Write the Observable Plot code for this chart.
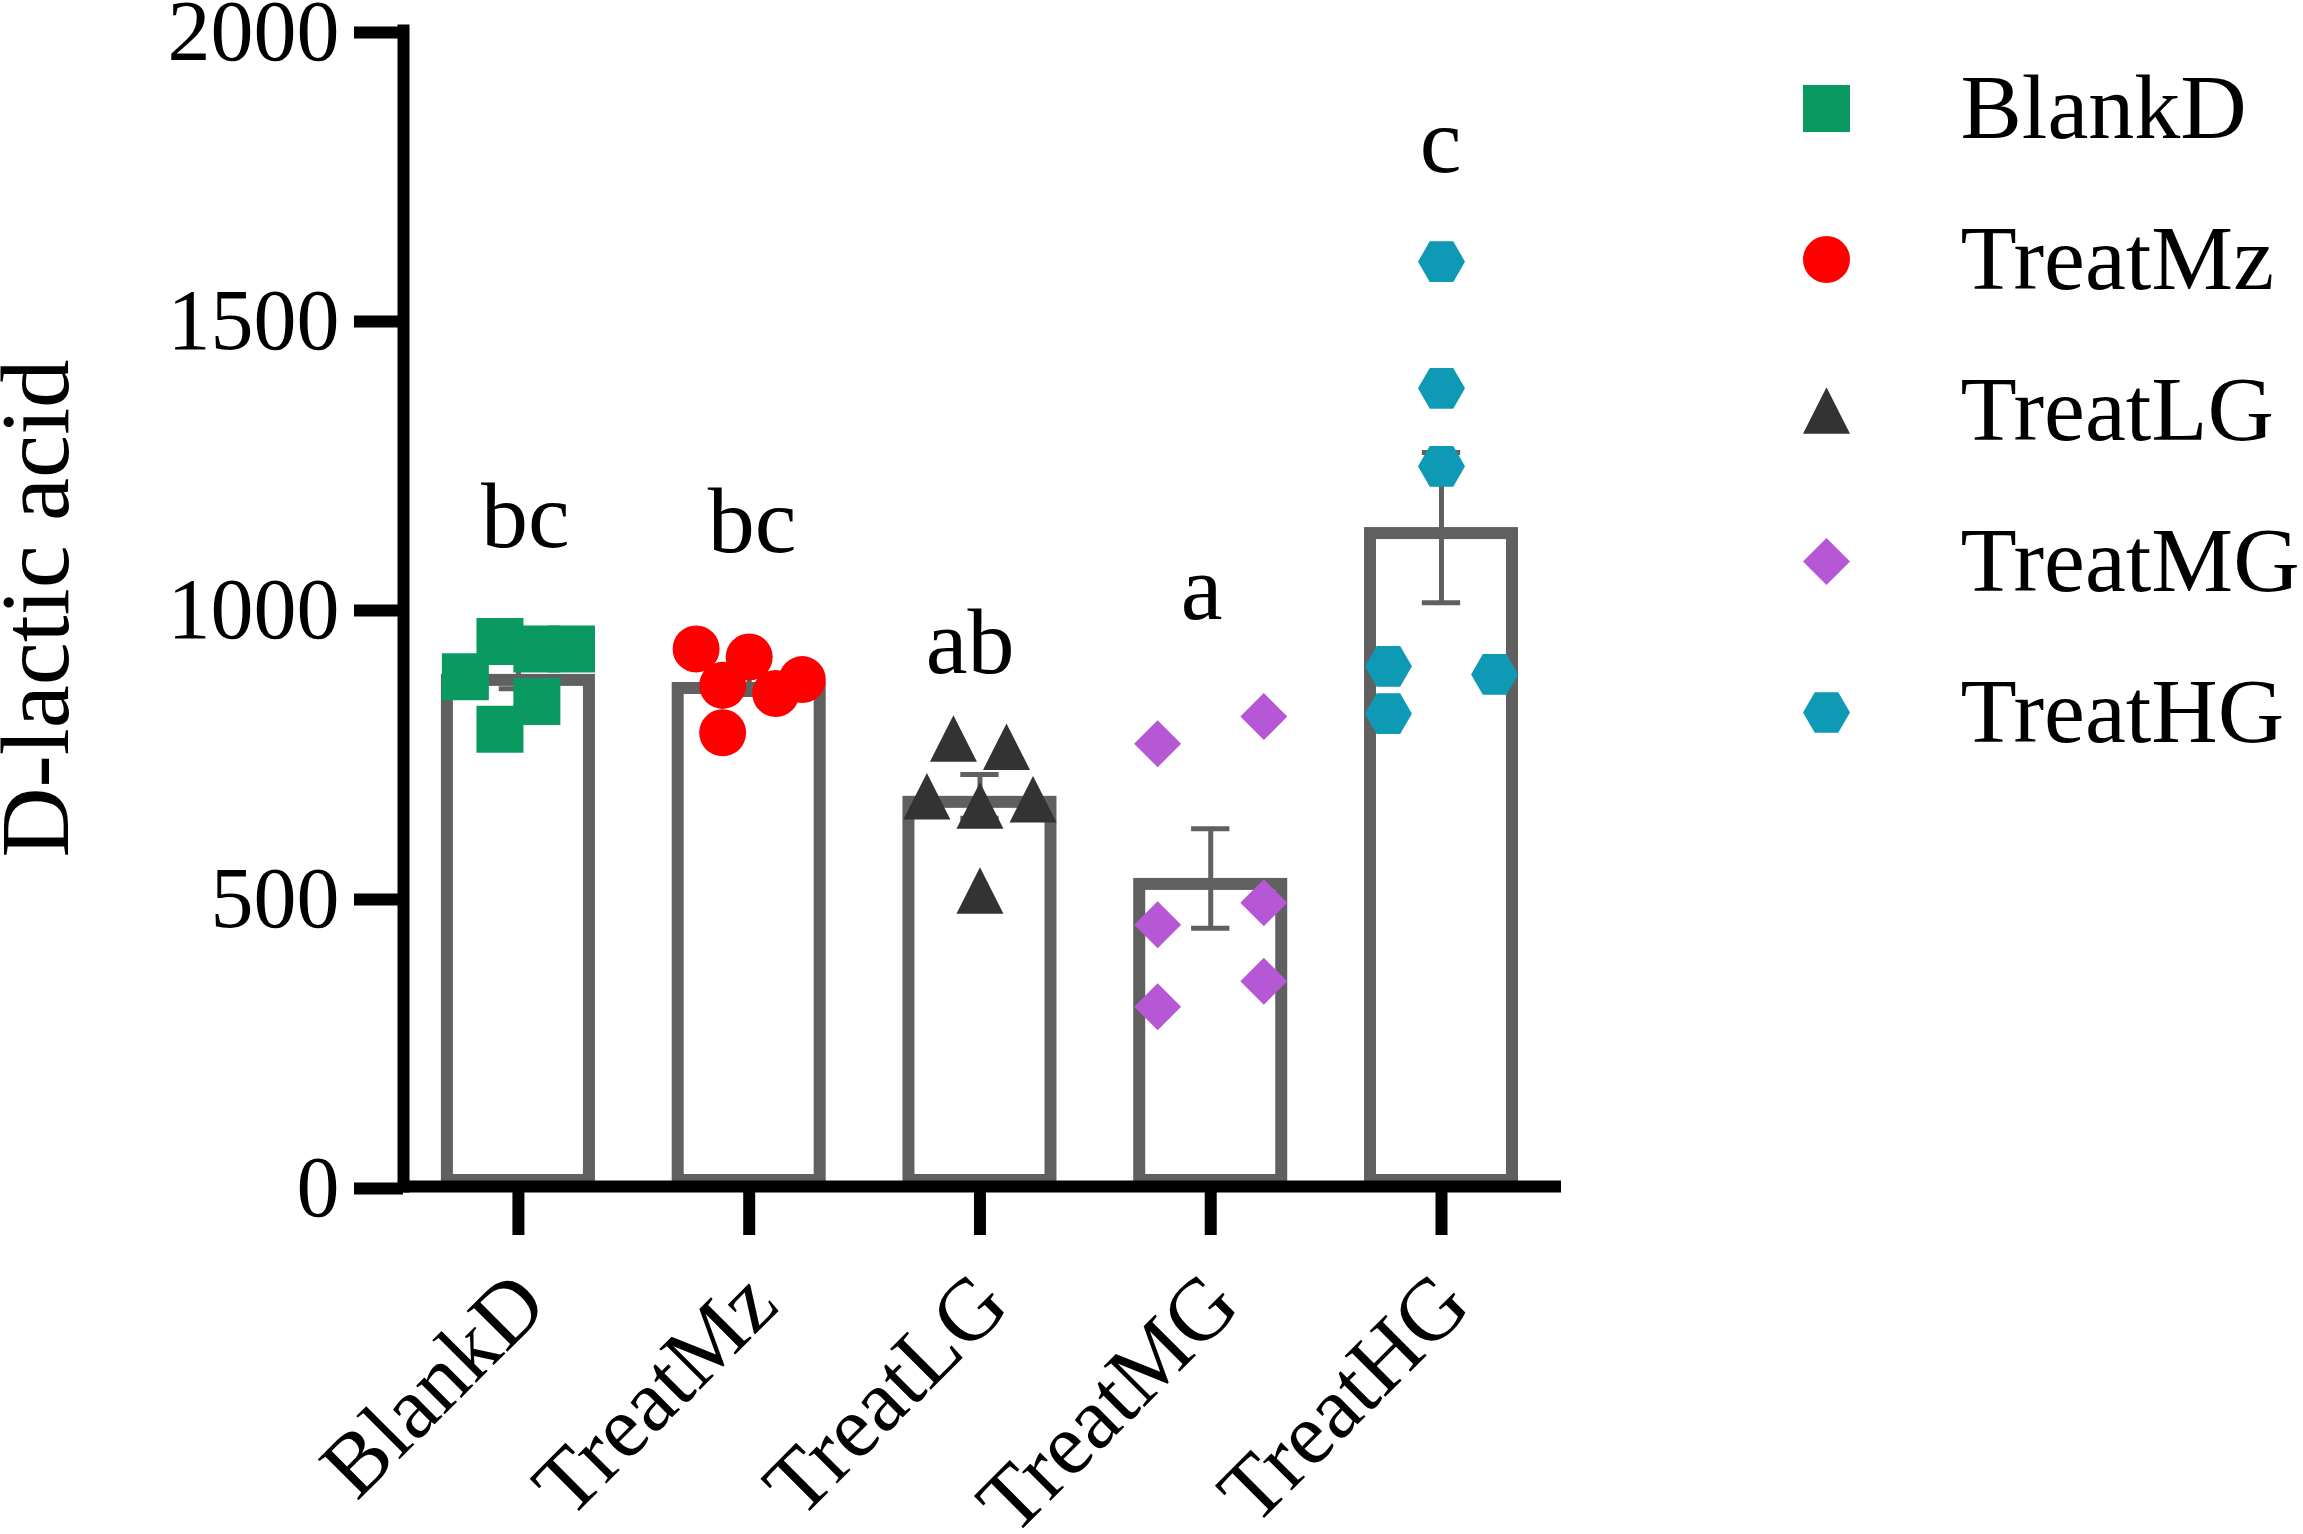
<!DOCTYPE html>
<html><head><meta charset="utf-8">
<script src="https://cdn.jsdelivr.net/npm/d3@7"></script>
<script src="https://cdn.jsdelivr.net/npm/@observablehq/plot@0.6"></script>
<style>
html,body{margin:0;padding:0;background:#fff;overflow:hidden;}
#wrap{position:relative;width:2303px;height:1534px;}
#legend{position:absolute;left:1750px;top:0;}
</style></head><body><div id="wrap"><div id="chart"></div><div id="legend"></div></div>
<script>
// ---- data ----
const groups = ["BlankD", "TreatMz", "TreatLG", "TreatMG", "TreatHG"];
const blankD  = [882, 943, 930, 930, 839, 791];
const treatMz = [930, 916, 867, 853, 877, 785];
const treatLG = [775, 761, 675, 659, 670, 512];
const treatMG = [766, 813, 453, 491, 311, 355];
const treatHG = [1600, 1381, 1246, 900, 818, 886];
const means = [886, 872, 675, 533, 1140];
const sems  = [25, 21, 38, 86, 130];
const letters = ["bc", "bc", "ab", "a", "c"];
const letterY = [1107, 1097, 888, 981, 1756];
const yTicks = [0, 500, 1000, 1500, 2000];
const yTitle = "D-lactic acid";

// ---- layout (scatter column offsets and letter shifts, in group units) ----
const jitter = [
  [-0.23, -0.08, 0.08, 0.23, 0.08, -0.08],
  [-0.23, 0, -0.115, 0.115, 0.23, -0.115],
  [-0.115, 0.115, -0.23, 0, 0.23, 0],
  [-0.23, 0.23, -0.23, 0.23, -0.23, 0.23],
  [0, 0, 0, -0.23, -0.23, 0.23]
];
const letterShift = [0.03, 0.013, -0.043, -0.039, -0.004];

// ---- styles ----
const colors = ["#0a9960", "#ff0000", "#333333", "#b657d6", "#0e9ab4"];
const gray = "#606060";
const R = 23.5;
const rad = s => Math.sqrt(s / Math.PI);
const symSquare = {draw(c, s) { const r = rad(s); c.rect(-r, -r, 2 * r, 2 * r); }};
const symCircle = {draw(c, s) { const r = rad(s); c.moveTo(r, 0); c.arc(0, 0, r, 0, 2 * Math.PI); }};
const symTriangle = {draw(c, s) { const r = rad(s), h = r * 0.99; c.moveTo(0, -h); c.lineTo(r, h); c.lineTo(-r, h); c.closePath(); }};
const symDiamond = {draw(c, s) { const r = rad(s); c.moveTo(0, -r); c.lineTo(r, 0); c.lineTo(0, r); c.lineTo(-r, 0); c.closePath(); }};
const symHex = {draw(c, s) { const r = rad(s), h = r * Math.sqrt(3) / 2; c.moveTo(r, 0); c.lineTo(r / 2, h); c.lineTo(-r / 2, h); c.lineTo(-r, 0); c.lineTo(-r / 2, -h); c.lineTo(r / 2, -h); c.closePath(); }};
const symbols = [symSquare, symCircle, symTriangle, symDiamond, symHex];
const font = "'Liberation Serif','Times New Roman',serif";

const seriesVals = [blankD, treatMz, treatLG, treatMG, treatHG];
const points = seriesVals.map((vals, gi) => vals.map((v, j) => ({x: gi + jitter[gi][j], y: v})));
const idx = groups.map((g, i) => i);

const chart = Plot.plot({
  width: 2303, height: 1534,
  marginLeft: 403, marginRight: 742, marginTop: 30, marginBottom: 348,
  style: {fontFamily: font, background: "white", color: "black", overflow: "visible"},
  x: {type: "linear", domain: [-0.498, 4.52], axis: null},
  y: {domain: [0, 2000], axis: null},
  marks: [
    Plot.rect(idx, {x1: i => i - 0.3337, x2: i => i + 0.3337, y1: 0, y2: i => means[i], fill: "white", stroke: gray, strokeWidth: 12, inset: 6}),
    Plot.ruleX(idx, {x: i => i, y1: i => means[i] - sems[i], y2: i => means[i] + sems[i], stroke: gray, strokeWidth: 5}),
    Plot.ruleY(idx, {y: i => means[i] + sems[i], x1: i => i - 0.083, x2: i => i + 0.083, stroke: gray, strokeWidth: 5}),
    Plot.ruleY(idx, {y: i => means[i] - sems[i], x1: i => i - 0.083, x2: i => i + 0.083, stroke: gray, strokeWidth: 5}),
    ...points.map((pts, gi) => Plot.dot(pts, {x: "x", y: "y", r: R, symbol: symbols[gi], fill: colors[gi]})),
    Plot.text(idx, {x: i => i + letterShift[i], y: i => letterY[i], text: i => letters[i], fontSize: 94, lineAnchor: "bottom", fill: "black"}),
    Plot.axisY({ticks: yTicks, tickFormat: d3.format("d"), tickSize: 49, tickPadding: 15, fontSize: 86, dy: 2, strokeWidth: 12, stroke: "black", fill: "black", label: null}),
    Plot.axisX({ticks: idx, tickSize: 49, strokeWidth: 12, stroke: "black", fill: "none", label: null}),
    Plot.text(idx, {x: i => i, text: i => groups[i], frameAnchor: "bottom", dx: 32, dy: 122, rotate: -45, textAnchor: "end", lineAnchor: "bottom", fontSize: 88, fill: "black"}),
    Plot.text([yTitle], {text: d => d, frameAnchor: "left", dx: -336, rotate: -90, fontSize: 97, textAnchor: "middle", lineAnchor: "bottom", fill: "black"}),
    Plot.frame({anchor: "left", stroke: "black", strokeWidth: 12, strokeLinecap: "square"}),
    Plot.ruleY([0], {stroke: "black", strokeWidth: 12})
  ]
});
document.getElementById("chart").appendChild(chart);

const legend = Plot.plot({
  width: 553, height: 800, margin: 0,
  style: {fontFamily: font, background: "transparent", color: "black", overflow: "visible"},
  y: {type: "point", domain: groups, range: [106, 713], padding: 0, axis: null},
  marks: [
    ...groups.map((g, i) => Plot.dot([g], {y: d => d, frameAnchor: "left", dx: 76, r: R, symbol: symbols[i], fill: colors[i]})),
    Plot.text(groups, {y: d => d, text: d => d, frameAnchor: "left", dx: 210, textAnchor: "start", fontSize: 92, fill: "black"})
  ]
});
document.getElementById("legend").appendChild(legend);
</script></body></html>
